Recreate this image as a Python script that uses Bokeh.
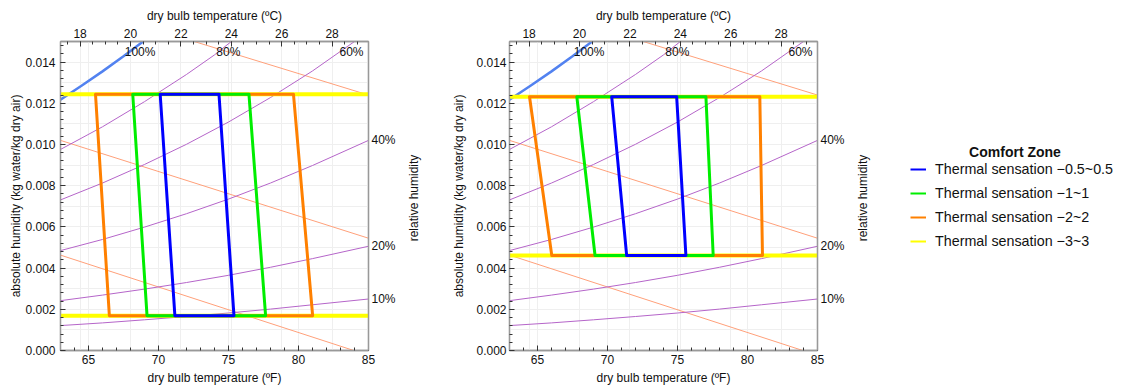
import math
from bokeh.plotting import figure
from bokeh.models import (Range1d, LinearAxis, SingleIntervalTicker, FixedTicker,
                          NumeralTickFormatter, Grid, Legend, LegendItem, Label)
from bokeh.layouts import row
from bokeh.embed import file_html
from bokeh.resources import INLINE
from bokeh.core.properties import value

# ---------------- data ----------------
# constant relative-humidity curves (dry bulb °F -> humidity ratio)
rh_t = [63, 66, 69, 72, 75, 78, 81, 85]
rh10_w = [0.00121, 0.00134, 0.00149, 0.00165, 0.00182, 0.00201, 0.00222, 0.00250]
rh20_w = [0.00242, 0.00269, 0.00298, 0.00330, 0.00365, 0.00404, 0.00446, 0.00506]
rh40_w = [0.00485, 0.00539, 0.00599, 0.00664, 0.00735, 0.00813, 0.00898, 0.01020]
rh60_t = [63, 66, 69, 72, 75, 78, 81, 84.0]
rh60_w = [0.00731, 0.00813, 0.00903, 0.01001, 0.01109, 0.01228, 0.01357, 0.0150]
rh80_t = [63, 66, 69, 72, 74, 75.2]
rh80_w = [0.00976, 0.01086, 0.01208, 0.01340, 0.01435, 0.0150]
rh100_t = [63, 64.5, 66, 67.5, 68.9]
rh100_w = [0.01218, 0.01285, 0.01355, 0.01428, 0.0150]
rh_side_labels = ["10%", "20%", "40%"]
rh_top_labels = ["100%", "80%", "60%"]
rh_axis_title = "relative humidity"

# constant enthalpy lines
h1_t = [72.55, 85]
h1_w = [0.0150, 0.0124]
h2_t = [63, 85]
h2_w = [0.0102, 0.00545]
h3_t = [63, 83.95]
h3_w = [0.00463, 0.0]

# comfort zones: corners TL, TR, BR, BL
yellow_t = [55, 95, 95, 55]
left_top_w = 0.01244
left_bot_w = 0.00169
left_orange_t = [65.50, 79.64, 81.01, 66.49]
left_green_t = [68.16, 76.46, 77.65, 69.18]
left_blue_t = [70.12, 74.32, 75.39, 71.17]

right_top_w = 0.01232
right_bot_w = 0.00461
right_orange_t = [64.43, 80.88, 81.07, 66.02]
right_green_t = [67.81, 77.03, 77.55, 69.11]
right_blue_t = [70.30, 74.94, 75.60, 71.37]

legend_title = "Comfort Zone"
legend_labels = ["Thermal sensation \u22120.5~0.5", "Thermal sensation \u22121~1",
                 "Thermal sensation \u22122~2", "Thermal sensation \u22123~3"]
zone_colors = ["#0000ff", "#00ee00", "#ff8000", "#ffff00"]

FONT = "Liberation Sans"
H = 390
TOP = 41
BOTTOM = 40
FRAME_H = H - TOP - BOTTOM


def style_axis(ax, label_standoff=3, tick_standoff=3):
    ax.axis_line_color = "#999999"
    ax.axis_line_width = 1.3
    ax.major_tick_line_color = "#333333"
    ax.minor_tick_line_color = "#333333"
    ax.major_tick_in = 5
    ax.major_tick_out = 0
    ax.minor_tick_in = 3
    ax.minor_tick_out = 0
    ax.major_label_text_font = FONT
    ax.major_label_text_font_size = "12px"
    ax.major_label_text_color = "#111111"
    ax.axis_label_text_font = FONT
    ax.axis_label_text_font_size = "12px"
    ax.axis_label_text_font_style = "normal"
    ax.axis_label_text_color = "#111111"
    ax.major_label_standoff = tick_standoff
    ax.axis_label_standoff = label_standoff


def make_panel(width, left_border, y_tick_standoff, y_label_standoff,
               top_w, bot_w, orange_t, green_t, blue_t):
    p = figure(width=width, height=H, x_range=Range1d(63, 85), y_range=Range1d(0, 0.015),
               output_backend="svg", toolbar_location=None,
               min_border_left=left_border, min_border_right=width - left_border - 308,
               min_border_top=TOP, min_border_bottom=BOTTOM)
    p.background_fill_color = "white"
    p.border_fill_color = "white"
    p.outline_line_color = "#999999"
    p.outline_line_width = 1.3

    # bottom axis (°F)
    xa = p.xaxis[0]
    xa.ticker = SingleIntervalTicker(interval=5, num_minor_ticks=5)
    xa.axis_label = "dry bulb temperature (\u00baF)"
    style_axis(xa, label_standoff=4, tick_standoff=4)

    # left axis
    ya = p.yaxis[0]
    ya.ticker = SingleIntervalTicker(interval=0.002, num_minor_ticks=5)
    ya.formatter = NumeralTickFormatter(format="0.000")
    ya.axis_label = "absolute humidity (kg water/kg dry air)"
    style_axis(ya, label_standoff=y_label_standoff, tick_standoff=y_tick_standoff)

    # top axis (°C)
    p.extra_x_ranges = {"c": Range1d((63 - 32) / 1.8, (85 - 32) / 1.8)}
    ta = LinearAxis(x_range_name="c", axis_label="dry bulb temperature (\u00baC)",
                    ticker=SingleIntervalTicker(interval=2, num_minor_ticks=4))
    style_axis(ta, label_standoff=3, tick_standoff=4)
    p.add_layout(ta, "above")

    # right axis (relative humidity tick labels at the curve ends)
    side_ticks = [rh10_w[-1], rh20_w[-1], rh40_w[-1]]
    ra = LinearAxis(ticker=FixedTicker(ticks=side_ticks, minor_ticks=[]),
                    major_label_overrides={v: s for v, s in zip(side_ticks, rh_side_labels)})
    style_axis(ra, label_standoff=0, tick_standoff=3)
    ra.major_tick_in = 0
    p.add_layout(ra, "right")

    # grids
    p.xgrid.ticker = SingleIntervalTicker(interval=5)
    p.ygrid.ticker = SingleIntervalTicker(interval=0.001)
    for g in list(p.xgrid) + list(p.ygrid):
        g.grid_line_color = "#efefef"
        g.grid_line_width = 1
    cg = Grid(dimension=0, x_range_name="c", ticker=SingleIntervalTicker(interval=2),
              grid_line_color="#efefef")
    p.add_layout(cg)

    # enthalpy lines
    for tt, ww in [(h1_t, h1_w), (h2_t, h2_w), (h3_t, h3_w)]:
        p.line(tt, ww, line_color="#ffa07a", line_width=1)
    # RH curves
    for tt, ww in [(rh_t, rh10_w), (rh_t, rh20_w), (rh_t, rh40_w), (rh60_t, rh60_w), (rh80_t, rh80_w)]:
        p.line(tt, ww, line_color="#b565c9", line_width=1)
    p.line(rh100_t, rh100_w, line_color="#5282f0", line_width=2.5)

    # comfort zones (yellow, orange, green, blue)
    ys = [top_w, top_w, bot_w, bot_w]
    p.patch(yellow_t, ys, fill_alpha=0, line_color=zone_colors[3], line_width=4)
    for tt, c in [(orange_t, zone_colors[2]), (green_t, zone_colors[1]), (blue_t, zone_colors[0])]:
        p.patch(tt, ys, fill_alpha=0, line_color=c, line_width=3, line_join="round")

    # top RH labels
    p.text(x=[rh100_t[-1], rh80_t[-1], rh60_t[-1]], y=[rh100_w[-1], rh80_w[-1], rh60_w[-1]],
           text=rh_top_labels, text_align="center", text_baseline="top", x_offset=-3, y_offset=3,
           text_font=value(FONT), text_font_size="12px", text_color="#111111")
    return p


def blank(width):
    f = figure(width=width, height=H, x_range=Range1d(0, 1), y_range=Range1d(0, 1),
               output_backend="svg", toolbar_location=None,
               min_border_left=0, min_border_right=0, min_border_top=TOP, min_border_bottom=BOTTOM,
               x_axis_location=None, y_axis_location=None)
    f.grid.visible = False
    f.outline_line_color = None
    f.background_fill_color = "white"
    f.border_fill_color = "white"
    return f


def rh_title_strip():
    f = blank(20)
    f.add_layout(Label(x=10, y=FRAME_H / 2 - 2, x_units="screen", y_units="screen",
                       text=rh_axis_title, angle=math.pi / 2, text_align="center",
                       text_baseline="middle", text_font=FONT, text_font_size="12px",
                       text_color="#111111"))
    return f


p1 = make_panel(403, 60, 5, -1, left_top_w, left_bot_w, left_orange_t, left_green_t, left_blue_t)
s1 = rh_title_strip()
p2 = make_panel(429, 86, 3, 7, right_top_w, right_bot_w, right_orange_t, right_green_t, right_blue_t)
s2 = rh_title_strip()

# legend panel (its frame is aligned with the neighbouring frames)
p3 = blank(252)
items = []
for lab, c in zip(legend_labels, zone_colors):
    r = p3.line([-5, -4], [-5, -4], line_color=c, line_width=2)
    items.append(LegendItem(label=lab, renderers=[r]))
frame_bottom = H - BOTTOM
leg = Legend(items=items, location=(38, frame_bottom - 251), glyph_width=16, glyph_height=20,
             label_height=20, spacing=4, label_standoff=9, padding=0, margin=0,
             border_line_color=None, background_fill_alpha=0,
             label_text_font=FONT, label_text_font_size="14.3px", label_text_color="#111111")
p3.add_layout(leg, "center")
p3.add_layout(Label(x=142.5, y=frame_bottom - 151.5, x_units="screen", y_units="screen",
                    text=legend_title, text_align="center", text_baseline="middle",
                    text_font=FONT, text_font_size="14px", text_font_style="bold",
                    text_color="#111111"))

layout = row(p1, s1, p2, s2, p3)
open("out.html", "w").write(file_html(layout, INLINE))
